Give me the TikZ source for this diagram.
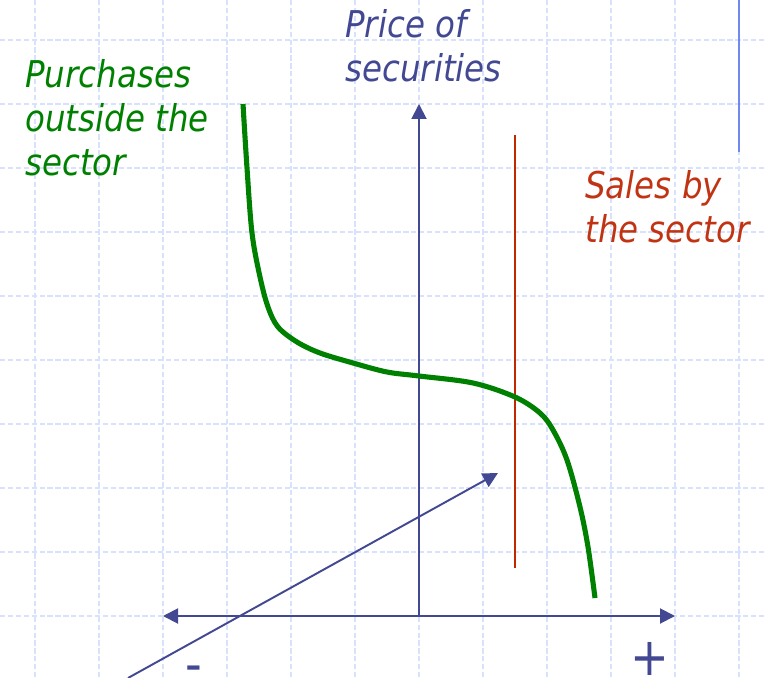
\documentclass[tikz,border=0pt]{standalone}
\usepackage{fontspec}
\setmainfont{DejaVu Sans}[FakeStretch=0.88]
\usepackage{tikz}
\usetikzlibrary{arrows.meta}
\definecolor{axisblue}{RGB}{66,72,145}
\definecolor{demandgreen}{RGB}{0,128,0}
\definecolor{supplyred}{RGB}{192,40,0}
\definecolor{labelred}{RGB}{192,52,20}
\definecolor{gridblue}{RGB}{216,226,252}
\definecolor{edgeblue}{RGB}{112,136,240}

\begin{document}
\begin{tikzpicture}[
      x=0.02cm, y=-0.02cm,
      gridline/.style={gridblue, line width=0.6pt, dash pattern=on 3pt off 1.5pt},
      axis/.style={axisblue, line width=1.1pt},
      tip/.style={-{Triangle[length=0.3cm, width=0.3cm]}},
      demand/.style={demandgreen, line width=2.9pt},
      supply/.style={supplyred, line width=1.1pt},
      label/.style={inner sep=0pt, anchor=north west, align=left, font=\fontsize{21}{25}\selectfont\itshape},
      sign/.style={inner sep=0pt, axisblue, font=\fontsize{30}{34}\selectfont}
    ]
    \useasboundingbox (0,0) rectangle (766,678);
    \foreach \gx in {35,99,...,739}
      \draw[gridline] (\gx,0) -- (\gx,678);
    \foreach \gy in {40,104,...,616}
      \draw[gridline] (0,\gy) -- (766,\gy);

    \coordinate (origin) at (419,616);
    \coordinate (ytip) at (419,104);
    \coordinate (xleft) at (163,616);
    \coordinate (xright) at (675,616);
    \coordinate (diagstart) at (128,678);
    \coordinate (diagtip) at (498,473);
    \coordinate (supplytop) at (515,135);
    \coordinate (supplybottom) at (515,568);
    \coordinate (edgetop) at (739,0);
    \coordinate (edgebottom) at (739,152);

    \node[label, demandgreen] (purchases) at (25,59) {Purchases\\outside the\\sector};
    \node[label, axisblue] (price) at (345,9) {Price of\\securities};
    \node[label, labelred] (sales) at (585,170) {Sales by\\the sector};
    \node[sign, anchor=base] (minus) at (194,682) {-};
    \node[sign] (plus) at (650,659) {+};

    \draw[edgeblue, line width=1.4pt] (edgetop) -- (edgebottom);
    \draw[axis, {Triangle[length=0.3cm, width=0.3cm]}-{Triangle[length=0.3cm, width=0.3cm]}] (xleft) -- (xright);
    \draw[axis, tip] (origin) -- (ytip);
    \draw[axis, tip] (diagstart) -- (diagtip);
    \draw[supply] (supplytop) -- (supplybottom);
    \draw[demand] plot[smooth, tension=0.55] coordinates {(243,104) (247,168) (252,233) (260,277) (268,307) (278,327) (297,342) (320,353) (353,363) (387,372) (419,376) (473,383) (515,397) (540,413) (553,430) (567,460) (580,507) (588,547) (595,598)};
  \end{tikzpicture}
\end{document}
